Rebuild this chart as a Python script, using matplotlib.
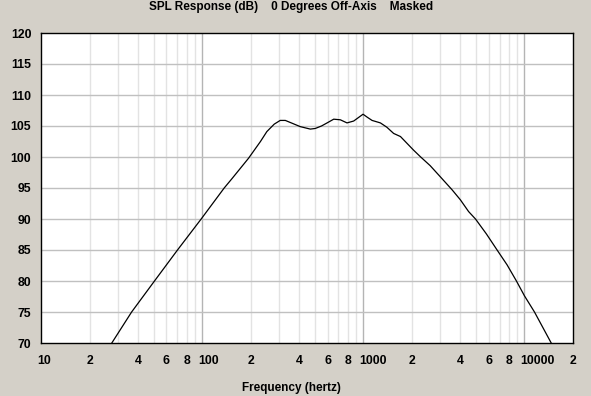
import matplotlib
matplotlib.use("Agg")
import matplotlib.pyplot as plt
from matplotlib.transforms import ScaledTranslation

# frequency response (Hz, dB)
freq = [27.5, 36.5, 50.6, 70.3, 98.6, 137, 153, 194, 230, 252, 280, 305, 328,
        365, 406, 469, 503, 550, 596, 655, 720, 792, 871, 996, 1060, 1133,
        1276, 1400, 1542, 1700, 2051, 2259, 2600, 3006, 3557, 4000, 4500,
        4966, 5800, 6761, 7800, 8913, 10000, 11534, 13000, 14650]
spl = [70.0, 75.0, 80.0, 85.0, 90.0, 95.0, 96.5, 99.8, 102.5, 104.1, 105.3,
       105.9, 105.9, 105.4, 104.9, 104.5, 104.6, 105.0, 105.5, 106.1, 106.0,
       105.5, 105.8, 106.9, 106.4, 105.9, 105.5, 104.8, 103.8, 103.3, 101.1,
       100.05, 98.6, 96.8, 94.7, 93.1, 91.2, 90.0, 87.6, 85.0, 82.6, 80.0,
       77.6, 75.0, 72.5, 70.0]

xtick_vals = [10, 20, 40, 60, 80, 100, 200, 400, 600, 800, 1000, 2000,
              4000, 6000, 8000, 10000, 20000]
xtick_labels = ["10", "2", "4", "6", "8", "100", "2", "4", "6", "8", "1000",
                "2", "4", "6", "8", "10000", "2"]
ytick_vals = [70, 75, 80, 85, 90, 95, 100, 105, 110, 115, 120]

bg = "#d4d0c8"
plt.rcParams["font.family"] = "Liberation Sans"
plt.rcParams["font.weight"] = "bold"

fig = plt.figure(figsize=(5.91, 3.96), dpi=100, facecolor=bg)
ax = fig.add_axes([41 / 591, 53 / 396, 532 / 591, 310 / 396])
ax.set_facecolor("white")

ax.set_xscale("log")
ax.set_xlim(10, 20000)
ax.set_ylim(70, 120)

# grid lines
minor = [m * 10 ** d for d in range(1, 5) for m in range(2, 10)]
for f in minor:
    if 10 < f < 20000:
        ax.axvline(f, color="#e3e3e3", lw=1, zorder=0)
for f in [100, 1000, 10000]:
    ax.axvline(f, color="#b4b4b4", lw=1, zorder=0)
for v in ytick_vals[1:-1]:
    ax.axhline(v, color="#c0c0c0", lw=1, zorder=0)

ax.plot(freq, spl, color="black", lw=0.9, zorder=3)

ax.set_xticks(xtick_vals)
ax.set_xticklabels(xtick_labels)
ax.set_xticks([], minor=True)
ax.set_yticks(ytick_vals)
ax.set_yticklabels([str(v) for v in ytick_vals])
ax.tick_params(length=0, labelsize=8.8, colors="black")
ax.tick_params(axis="x", pad=8.5)
ax.tick_params(axis="y", pad=7)

# multi-digit labels start at the grid line, as in the original
for lab in ax.get_xticklabels():
    if len(lab.get_text()) > 1:
        lab.set_horizontalalignment("left")
        lab.set_transform(lab.get_transform() + ScaledTranslation(-4 / 100, 0, fig.dpi_scale_trans))

for s in ax.spines.values():
    s.set_color("black")
    s.set_linewidth(1)

fig.text(291.5 / 591, 1 - 7 / 396, "SPL Response (dB)    0 Degrees Off-Axis    Masked",
         ha="center", va="center", fontsize=8.5, fontweight="bold")
fig.text(291 / 591, 1 - 388 / 396, "Frequency (hertz)",
         ha="center", va="center", fontsize=8.5, fontweight="bold")

fig.savefig("out.png", dpi=100, facecolor=bg)
